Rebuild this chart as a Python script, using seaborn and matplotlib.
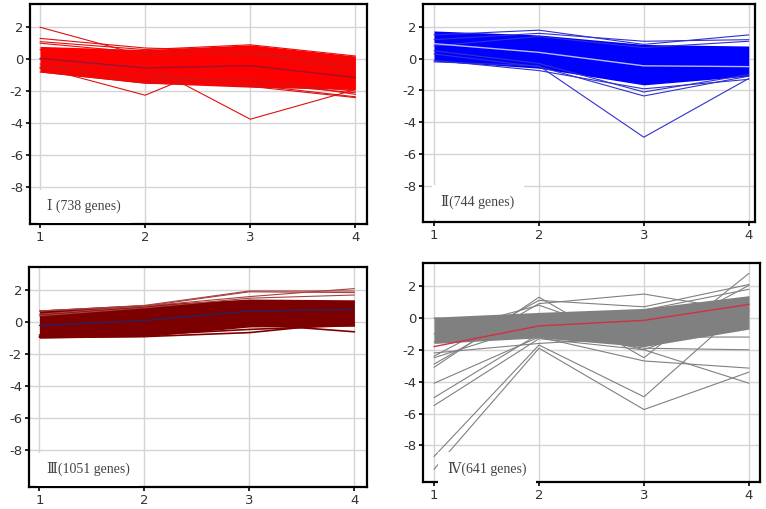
import numpy as np
import pandas as pd
import matplotlib
matplotlib.use("Agg")
import matplotlib.pyplot as plt
import seaborn as sns

# time points
steps = [1, 2, 3, 4]

# --- cluster I (red) ---
band1_top = [0.8, 0.6, 0.9, 0.2]
band1_bot = [-0.8, -1.5, -1.75, -1.9]
mean1 = [0.05, -0.55, -0.4, -1.15]
lines1 = [
    [2.0, 0.2, 0.5, -0.6],
    [1.3, 0.7, 0.5, -0.2],
    [1.1, 0.6, 0.9, 0.2],
    [1.0, 0.4, 0.3, -0.4],
    [-0.5, -2.25, 0.45, -0.9],
    [-0.5, -0.3, -3.75, -1.9],
    [-0.8, -1.5, -1.6, -2.35],
    [0.6, -1.0, -1.7, -2.4],
    [-0.3, -1.4, -1.2, -2.2],
    [0.0, -0.9, -1.5, -2.1],
    [-0.6, -1.2, -1.3, -2.0],
]

# --- cluster II (blue) ---
band2_top = [1.75, 1.5, 0.9, 0.8]
band2_bot = [-0.15, -0.6, -1.65, -1.1]
mean2 = [0.95, 0.4, -0.45, -0.5]
lines2 = [
    [1.5, 1.8, 0.9, 1.5],
    [1.2, 1.6, 1.1, 1.2],
    [0.8, 1.4, 0.7, 1.1],
    [-0.2, -0.45, -4.95, -1.25],
    [0.3, -0.5, -2.35, -1.1],
    [0.5, -0.3, -2.1, -1.0],
    [-0.1, -0.75, -1.9, -1.3],
]

# --- cluster III (dark red) ---
band3_top = [0.77, 1.1, 1.45, 1.4]
band3_bot = [-1.0, -0.9, -0.3, -0.25]
mean3 = [-0.2, 0.1, 0.7, 0.8]
lines3 = [
    [0.7, 1.05, 1.95, 1.95],
    [0.7, 1.0, 1.9, 1.85],
    [0.5, 1.0, 1.6, 2.1],
    [0.4, 0.9, 1.5, 1.7],
]
edges3 = [
    [-0.95, -0.9, -0.65, 0.0],
    [-0.8, -0.6, -0.1, -0.6],
    [-0.9, -0.8, -0.45, -0.2],
]

# --- cluster IV (gray) ---
band4_top = [0.05, 0.35, 0.6, 1.4]
band4_bot = [-1.6, -1.25, -1.8, -0.7]
mean4 = [-1.8, -0.5, -0.15, 0.85]
lines4 = [
    [-8.7, -1.7, -4.95, 0.9],
    [-9.5, -1.9, -5.75, -3.4],
    [-5.5, -1.3, -2.0, 0.5],
    [-5.0, -1.0, -1.8, 1.2],
    [-4.1, -1.2, -2.7, -3.15],
    [-3.1, 1.3, -2.5, 2.8],
    [-2.9, 0.9, 1.5, 0.4],
    [-2.4, 1.1, 0.7, 2.1],
    [-2.5, -0.4, -2.0, -4.1],
    [-1.0, 0.8, -1.5, 2.05],
    [-1.5, -0.8, -1.9, -2.0],
    [0.0, -0.3, 0.5, 1.8],
    [-2.2, -1.6, -1.2, -1.2],
]

panels = [
    ("Ⅰ (738 genes)", band1_top, band1_bot, mean1, lines1, [], "#ff0000", "#e01010", "#a01030"),
    ("Ⅱ(744 genes)", band2_top, band2_bot, mean2, lines2, [], "#0000ff", "#3030d0", "#b8b8ff"),
    ("Ⅲ(1051 genes)", band3_top, band3_bot, mean3, lines3, edges3, "#7d0000", "#a84040", "#2a2060"),
    ("Ⅳ(641 genes)", band4_top, band4_bot, mean4, lines4, [], "#808080", "#808080", "#d03040"),
]

# axes boxes in pixels: left, right, top, bottom
boxes = [(30, 367, 4, 224), (423, 755, 4, 222), (29, 367, 267, 487), (423, 760, 263, 482)]
xlims = [(0.905, 4.11), (0.895, 4.06), (0.9, 4.12), (0.895, 4.105)]
text_pos = [(1.07, -9.2), (1.07, -9.05), (1.07, -9.2), (1.13, -9.45)]


def to_long(rows):
    return pd.DataFrame(
        [(g, s, v) for g, row in enumerate(rows) for s, v in zip(steps, row)],
        columns=["gene", "step", "value"],
    )


sns.set_style("white")
plt.rcParams["font.family"] = ["DejaVu Sans"]
W, H = 766, 509
fig = plt.figure(figsize=(W / 100, H / 100), dpi=100)

for i, (label, top, bot, mean, lines, edges, col, lcol, mcol) in enumerate(panels):
    l, r, t, b = boxes[i]
    ax = fig.add_axes([l / W, (H - b) / H, (r - l) / W, (b - t) / H])

    ax.fill_between(steps, bot, top, color=col, lw=0, zorder=2)
    if edges:
        sns.lineplot(data=to_long(edges), x="step", y="value", units="gene",
                     estimator=None, color=col, lw=1.2, ax=ax, zorder=2)
    sns.lineplot(data=to_long(lines), x="step", y="value", units="gene",
                 estimator=None, color=lcol, lw=0.8, ax=ax, zorder=3)
    sns.lineplot(x=steps, y=mean, color=mcol, lw=1.0, ax=ax, zorder=4)

    ax.set_xlim(*xlims[i])
    ax.set_ylim(-10.3, 3.45)
    ax.set_xticks(steps)
    ax.set_yticks([2, 0, -2, -4, -6, -8])
    ax.set_yticklabels(["2", "0", "-2", "-4", "-6", "-8"])
    ax.grid(True, color="#d4d4d4", lw=1.0, zorder=0)
    ax.set_axisbelow(True)
    ax.set_xlabel("")
    ax.set_ylabel("")
    ax.tick_params(axis="both", bottom=True, left=True, length=3, width=1.2,
                   color="black", labelsize=9.5, labelcolor="#333333", pad=2,
                   direction="out")
    for sp in ax.spines.values():
        sp.set_color("black")
        sp.set_linewidth(1.6)

    ax.text(text_pos[i][0], text_pos[i][1], label, fontsize=10, color="#444444",
            family=["Liberation Serif", "DejaVu Serif", "Noto Sans CJK SC"],
            va="center", ha="left", zorder=6,
            bbox=dict(boxstyle="square,pad=0.7", fc="white", ec="none"))

fig.savefig("out.png", dpi=100)
